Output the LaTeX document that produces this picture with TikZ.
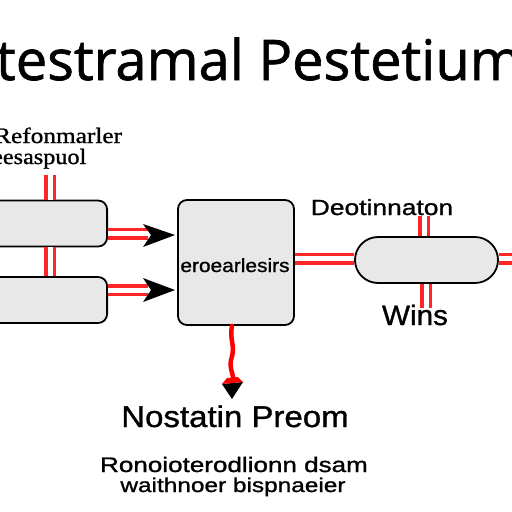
\documentclass[tikz,border=0pt]{standalone}
\usepackage{fontspec}
\setmainfont[UprightFeatures={FakeBold=1}]{Liberation Sans}
\newfontfamily\titlefont[UprightFeatures={FakeBold=1.2}]{Open Sans}
\newfontfamily\serifx[UprightFeatures={FakeBold=1}]{Liberation Serif}
\usetikzlibrary{arrows.meta}
\tikzset{
  redpipe/.style={draw=red!85!white, double=white, line width=3.5pt, double distance=5pt},
  boxgray/.style={draw=black, fill=gray!18, line width=1.8pt, rounded corners=9pt},
  lbl/.style={inner sep=0pt, anchor=base},
  ahead/.style={fill=black, draw=none}
}
\begin{document}
\begin{tikzpicture}[x=1pt,y=-1pt]
\useasboundingbox (0,0) rectangle (512,512);
\fill[white] (0,0) rectangle (512,512);
% title
\node[lbl] (title) at (259,80) {\titlefont\fontsize{56}{60}\selectfont testramal Pestetium};
% left labels
\node[lbl, anchor=base west] (lab1) at (-6,143) {\serifx\fontsize{22}{24}\selectfont\scalebox{1.15}[1]{Refonmarler}};
\node[lbl, anchor=base west] (lab2) at (-8,164) {\serifx\fontsize{22}{24}\selectfont\scalebox{1.1}[1]{eesaspuol}};
% left boxes
\node[boxgray, minimum width=130pt, minimum height=46pt, anchor=east] (b1) at (108,223.5) {};
\node[boxgray, minimum width=130pt, minimum height=46pt, anchor=east] (b2) at (108,300) {};
% vertical pipes on left
\coordinate (t1) at (50,175);
\draw[redpipe] (t1) -- (b1.north -| t1);
\draw[redpipe] (b1.south -| t1) -- (b2.north -| t1);
% center box
\node[boxgray, minimum width=116pt, minimum height=125pt] (c) at (236,262.5) {};
\node[lbl] (ctext) at (235,272) {\fontsize{19}{21}\selectfont\scalebox{1.1}[1]{eroearlesirs}};
% arrows from left boxes
\coordinate (a1) at (148,233.5);
\coordinate (a1t) at (175,235);
\draw[redpipe] (b1.east |- a1) -- (a1);
\fill[ahead] (a1t) -- (143,224) -- (151,235) -- (143,247) -- cycle;
\coordinate (a2) at (148,290);
\coordinate (a2t) at (175,290);
\draw[redpipe] (b2.east |- a2) -- (a2);
\fill[ahead] (a2t) -- (143,278) -- (151,290) -- (143,302) -- cycle;
% pill
\node[draw=black, fill=gray!18, line width=1.8pt, rounded corners=23pt, minimum width=143pt, minimum height=46pt] (p) at (426.5,260) {};
\draw[redpipe] (c.east |- 0,258.5) -- (p.west |- 0,258.5);
\coordinate (pr) at (520,258.5);
\draw[redpipe] (p.east |- pr) -- (pr);
\coordinate (pt) at (424,216);
\draw[redpipe] (pt) -- (p.north -| pt);
\coordinate (pb) at (426,308);
\draw[redpipe] (p.south -| pb) -- (pb);
% labels right
\node[lbl] (dest) at (382,215) {\fontsize{22}{24}\selectfont\scalebox{1.2}[1]{Deotinnaton}};
\node[lbl] (wins) at (415,325) {\fontsize{28}{30}\selectfont\scalebox{1.06}[1]{Wins}};
% down wavy arrow
\coordinate (d0) at (232,325);
\coordinate (dt) at (232,399);
\draw[red, line width=4.5pt, line cap=round] (c.south -| d0) .. controls (229,340) and (236,345) .. (231,360) .. controls (229,370) and (235,375) .. (233,386);
\fill[ahead] (dt) -- (222,384) -- (243,382) -- cycle;
\fill[red] (222,384) -- (243,382) -- (238,377) -- (227,378) -- cycle;
% bottom texts
\node[lbl] (np) at (235,427) {\fontsize{30}{32}\selectfont\scalebox{1.1}[1]{Nostatin Preom}};
\node[lbl] (r1) at (234,472) {\fontsize{21}{23}\selectfont\scalebox{1.24}[1]{Ronoioterodlionn dsam}};
\node[lbl] (r2) at (233,492) {\fontsize{20}{22}\selectfont\scalebox{1.22}[1]{waithnoer bispnaeier}};
\end{tikzpicture}
\end{document}
